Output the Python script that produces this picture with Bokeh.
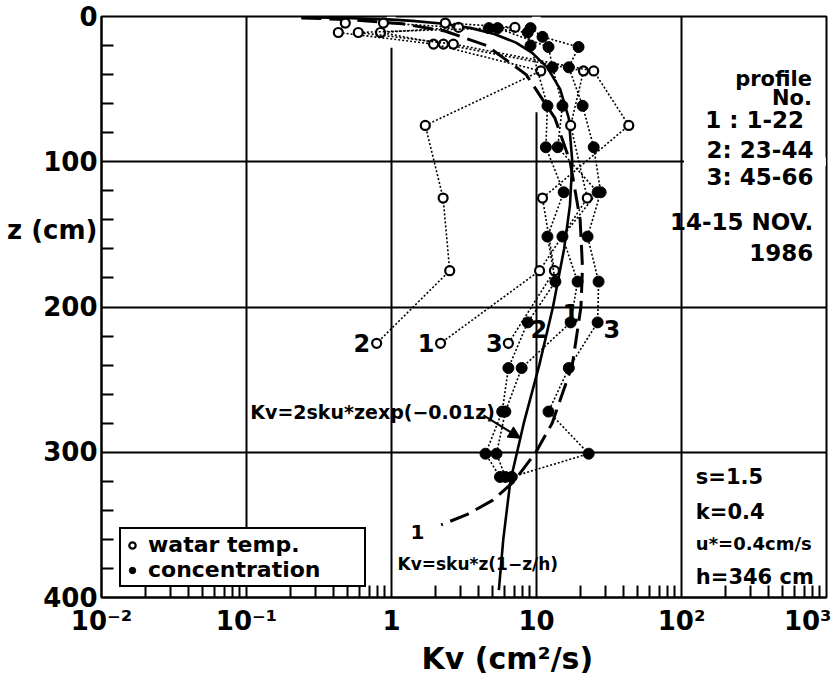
from bokeh.plotting import figure
from bokeh.models import (Range1d, FixedTicker, CustomJSTickFormatter, Label, Arrow,
                          NormalHead, Legend, LegendItem, Title, BoxAnnotation)
from bokeh.embed import file_html
from bokeh.resources import INLINE

FONT = "DejaVu Sans"

# ---------------- data ----------------
# water temperature profiles (open circles): depth z (cm) and Kv (cm2/s)
w1_z = [4.5, 7.5, 11, 19, 37.5, 75, 125, 175, 225]
w1_kv = [0.88, 2.9, 0.84, 2.28, 21.1, 17.2, 22.4, 10.5, 2.18]
w2_z = [4.5, 11, 19, 37.5, 75, 125, 175, 225]
w2_kv = [0.48, 0.43, 1.95, 10.7, 1.71, 2.27, 2.52, 0.79]
w3_z = [4.5, 7.5, 11, 19, 37.5, 75, 125, 175, 225]
w3_kv = [2.35, 7.1, 0.59, 2.67, 24.8, 43.3, 11.0, 13.3, 6.4]

# concentration profiles (filled circles)
c1_z = [8, 21, 35, 61.5, 90, 121, 151.5, 182.5, 210.6, 242, 272, 301, 317]
c1_kv = [5.4, 12.1, 12.9, 15.1, 14.0, 26.4, 15.1, 19.2, 17.2, 7.9, 6.1, 5.3, 6.1]
c2_z = [8, 11, 20, 61.5, 90, 121, 151.5, 182.5, 210.6, 242, 272, 301, 317]
c2_kv = [4.7, 8.7, 9.1, 11.9, 11.6, 15.4, 11.9, 13.5, 8.7, 6.4, 5.8, 4.45, 5.6]
c3_z = [8, 14, 21, 35, 61.5, 90, 121, 151.5, 182.5, 210.6, 242, 272, 301, 317]
c3_kv = [9.1, 11.0, 19.5, 16.7, 20.8, 24.8, 27.7, 22.5, 26.8, 26.4, 16.7, 12.1, 22.9, 6.75]

# model curve Kv = 2 s k u* z exp(-0.01 z) (solid), as drawn
exp_z = [0.5, 1, 2, 3, 5, 8, 12, 18, 25, 35, 50, 70, 100, 130, 160, 200, 240, 280, 320, 360, 395]
exp_kv = [0.239, 0.475, 0.941, 1.397, 2.283, 3.545, 5.108, 7.217, 9.346, 11.84, 14.56,
          16.69, 17.66, 17.01, 15.50, 12.99, 10.45, 8.17, 6.6, 5.9, 5.5]
# model curve Kv = s k u* z (1 - z/h) (dashed), as drawn
par_z = [1, 2, 5, 10, 20, 40, 70, 100, 140, 173, 200, 240, 280, 300, 320, 333, 343, 350]
par_kv = [0.239, 0.477, 1.183, 2.331, 4.523, 8.49, 13.40, 17.06, 20.00, 20.76, 20.25,
          17.65, 12.82, 9.9, 7.0, 5.0, 3.3, 2.2]

x_ticks = [0.01, 0.1, 1, 10, 100, 1000]
x_tick_labels = ["10\u207b\u00b2", "10\u207b\u00b9", "1", "10", "10\u00b2", "10\u00b3"]
y_ticks = [0, 100, 200, 300, 400]
y_title_depth = 147          # where the "z (cm)" caption sits on the depth axis

# ---------------- figure ----------------
p = figure(width=831, height=676, x_axis_type="log",
           x_range=Range1d(0.01, 1000), y_range=Range1d(400, 0),
           output_backend="svg", toolbar_location=None,
           min_border_left=101, min_border_right=5, min_border_top=16, min_border_bottom=79)
p.background_fill_color = "white"
p.border_fill_color = "white"
p.outline_line_color = "black"
p.outline_line_width = 2
p.outline_line_alpha = 1

p.xaxis.ticker = FixedTicker(ticks=x_ticks,
                             minor_ticks=[m * t for t in x_ticks[:-1] for m in range(2, 10)])
p.xaxis.formatter = CustomJSTickFormatter(
    args=dict(labels=x_tick_labels),
    code="return labels[Math.round(Math.log10(tick)) + 2];")
p.yaxis.ticker = FixedTicker(ticks=sorted(y_ticks + [y_title_depth]),
                             minor_ticks=[v for v in range(20, 400, 20) if v % 100])
p.yaxis.major_label_overrides = {y_title_depth: "z (cm)"}
p.xgrid.ticker = FixedTicker(ticks=x_ticks)
p.ygrid.ticker = FixedTicker(ticks=y_ticks)

for ax in (p.xaxis, p.yaxis):
    ax.axis_line_width = 2
    ax.axis_line_color = "black"
    ax.major_tick_in = 0
    ax.major_tick_out = 0
    ax.minor_tick_in = 12
    ax.minor_tick_out = 0
    ax.minor_tick_line_width = 2
    ax.minor_tick_line_color = "black"
    ax.major_label_text_font = FONT
    ax.major_label_text_font_style = "bold"
    ax.major_label_text_font_size = "26px"
    ax.major_label_text_color = "black"
p.yaxis.major_label_standoff = 4
p.xaxis.major_label_standoff = 8

for g in (p.xgrid, p.ygrid):
    g.grid_line_color = "black"
    g.grid_line_width = 2
    g.grid_line_alpha = 1

# gaps in the hand-drawn grid (lines left out behind the text block and near the top)
for left, right, top, bottom in ((104, 990, 97, 103), (0.93, 1.07, 0, 21.5),
                                 (9.3, 10.7, 0, 66)):
    p.add_layout(BoxAnnotation(left=left, right=right, top=top, bottom=bottom,
                               fill_color="white", fill_alpha=1, line_alpha=0,
                               level="underlay"))

# x-axis caption, right of centre as in the original
p.add_layout(Title(text="Kv (cm\u00b2/s)", align="left", offset=320, standoff=0,
                   text_font=FONT, text_font_style="bold", text_font_size="30px",
                   text_color="black"), "below")

# ---------------- curves ----------------
p.line(exp_kv, exp_z, line_color="black", line_width=2.6)
p.line(par_kv, par_z, line_color="black", line_width=3, line_dash="20 8")

# ---------------- profiles ----------------
w_r = []
for kv, z in ((w1_kv, w1_z), (w2_kv, w2_z), (w3_kv, w3_z)):
    p.line(kv, z, line_color="black", line_width=1.6, line_dash="2 2")
    w_r.append(p.scatter(kv, z, marker="circle", size=9, fill_color="white",
                         line_color="black", line_width=2.2))
c_r = []
for kv, z in ((c1_kv, c1_z), (c2_kv, c2_z), (c3_kv, c3_z)):
    p.line(kv, z, line_color="black", line_width=1.6, line_dash="2 2")
    c_r.append(p.scatter(kv, z, marker="circle", size=11, fill_color="black",
                         line_color="black", line_width=1))


def lab(x, y, text, size="23px", align="left", baseline="middle"):
    p.add_layout(Label(x=x, y=y, text=text, text_font=FONT, text_font_style="bold",
                       text_font_size=size, text_color="black", text_align=align,
                       text_baseline=baseline))


# right-hand annotation block
lab(794, 43.1, "profile", size="21px", align="right")
lab(794, 56.2, "No.", size="21px", align="right")
lab(794, 71.3, "1 :  1-22", align="right")
lab(812, 92.0, "2: 23-44", align="right")
lab(812, 110.6, "3: 45-66", align="right")
lab(810, 141.6, "14-15 NOV.", align="right")
lab(810, 162.3, "1986", align="right")

lab(125.6, 317.3, "s=1.5", size="21px")
lab(125.6, 341.4, "k=0.4", size="21px")
lab(125.6, 362.8, "u*=0.4cm/s", size="18px")
lab(125.6, 386.2, "h=346 cm", size="21px")

# profile-number tags
lab(0.714, 225, "2", size="24px", align="right")
lab(1.98, 225, "1", size="24px", align="right")
lab(5.84, 225, "3", size="24px", align="right")
lab(9.1, 215.3, "2", size="24px")
lab(15.1, 204.3, "1", size="24px")
lab(29.0, 215.3, "3", size="24px")

# formula labels
lab(0.1062, 272.5, "Kv=2sku*zexp(\u22120.01z)", size="19px")
lab(1.1, 376.6, "Kv=sku*z(1\u2212z/h)", size="17px")
lab(1.35, 355, "1", size="20px")
p.add_layout(Arrow(end=NormalHead(size=12, fill_color="black", line_color="black"),
                   x_start=4.31, y_start=274.6, x_end=7.76, y_end=290.4,
                   line_color="black", line_width=2))

# legend
legend = Legend(items=[LegendItem(label="watar temp.", renderers=[w_r[0]]),
                       LegendItem(label="concentration", renderers=[c_r[0]])],
                location=(18, 10), border_line_color="black", border_line_width=2,
                border_line_alpha=1, background_fill_color="white", background_fill_alpha=1,
                label_text_font=FONT, label_text_font_style="bold",
                label_text_color="black",
                label_text_font_size="22px", glyph_width=16, glyph_height=18,
                label_height=18, label_width=213, label_standoff=8, padding=3,
                spacing=0, margin=0)
p.add_layout(legend)

open("out.html", "w").write(file_html(p, INLINE))
